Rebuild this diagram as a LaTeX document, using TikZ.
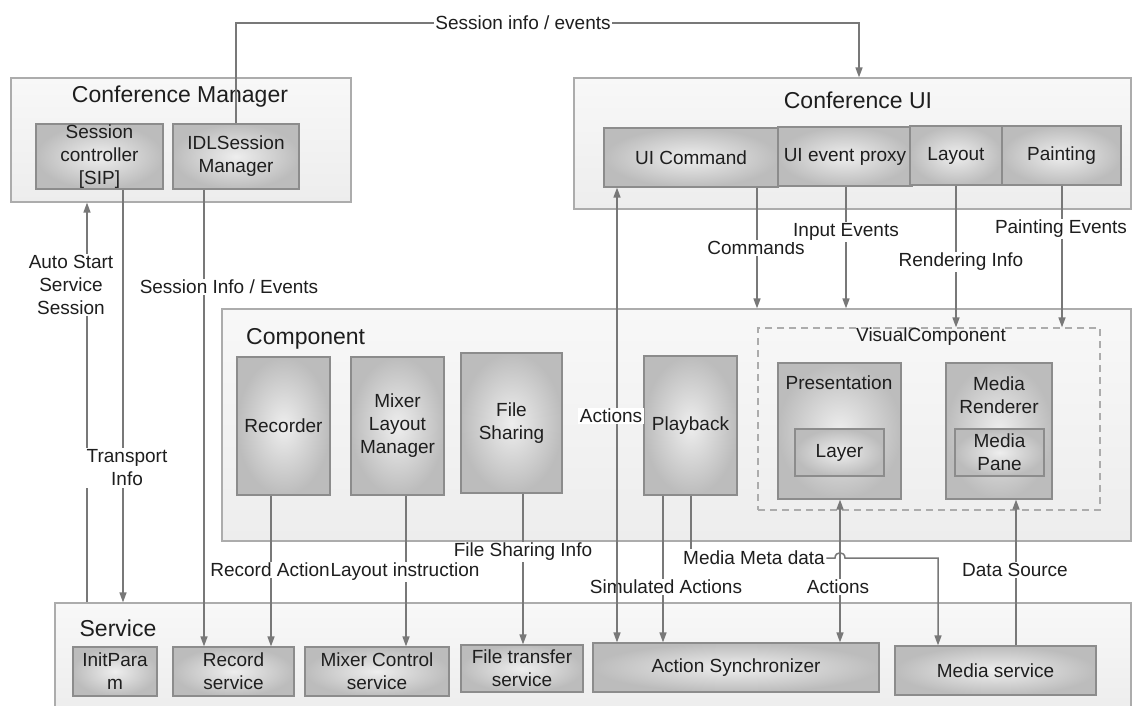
\documentclass[tikz,border=0pt]{standalone}
\usepackage{fontspec}
\setmainfont{Liberation Sans}
\usetikzlibrary{arrows.meta}

\definecolor{ink}{RGB}{30,30,30}
\definecolor{wiregray}{RGB}{120,120,120}
\definecolor{edgegray}{RGB}{140,140,140}
\definecolor{boxlight}{RGB}{238,238,238}
\definecolor{boxdark}{RGB}{188,188,188}
\definecolor{framebd}{RGB}{172,172,172}
\definecolor{frametop}{RGB}{248,248,248}
\definecolor{framebot}{RGB}{237,237,237}

\newcommand{\lblfont}{\fontsize{19}{23}\selectfont}
\newcommand{\ttlfont}{\fontsize{23}{27}\selectfont}

% box from its corners: style, name, x1, y1, x2, y2, text
\newcommand{\placebox}[7]{%
  \pgfmathsetmacro{\pbW}{#5-#3}%
  \pgfmathsetmacro{\pbH}{#6-#4}%
  \pgfmathsetmacro{\pbX}{(#3+#5)/2}%
  \pgfmathsetmacro{\pbY}{(#4+#6)/2}%
  \node[#1, minimum width=\pbW pt, minimum height=\pbH pt] (#2) at (\pbX,\pbY) {#7};}

\begin{document}
\begin{tikzpicture}[x=1pt,y=-1pt,
  part/.style={draw=edgegray, line width=1.2pt, inner color=boxlight, outer color=boxdark,
               inner sep=0pt, align=center, text=ink, font=\lblfont},
  frame/.style={draw=framebd, line width=1.2pt, top color=frametop, bottom color=framebot, inner sep=0pt},
  ghost/.style={draw=framebd, line width=1.2pt, dash pattern=on 7pt off 5pt, inner sep=0pt},
  title/.style={text=ink, font=\ttlfont, inner sep=0pt},
  tag/.style={fill=white, text=ink, font=\lblfont, align=center, inner sep=1.5pt},
  plain/.style={text=ink, font=\lblfont, align=center, inner sep=0pt},
  wire/.style={draw=wiregray, line width=1.5pt},
  arr/.style={wire, -{Triangle[length=10pt,width=7pt]}},
  darr/.style={wire, {Triangle[length=10pt,width=7pt]}-{Triangle[length=10pt,width=7pt]}},
]
\useasboundingbox (0,0) rectangle (1134,705);

% Conference Manager
\placebox{frame}{cm}{11}{78}{351}{202}{}
\node[title] at (180,97) {Conference Manager};
\placebox{part}{sc}{36}{124}{163}{189}{Session\\controller\\{[SIP]}}
\placebox{part}{idl}{173}{124}{299}{189}{IDLSession\\Manager}

% Conference UI
\placebox{frame}{cui}{574}{78}{1131}{209}{}
\node[title] at (858,100) {Conference UI};
\placebox{part}{uic}{604}{128}{778}{187}{UI Command}
\placebox{part}{uep}{778}{127}{912}{186}{UI event proxy}
\placebox{part}{lay}{910}{126}{1002}{185}{Layout}
\placebox{part}{pnt}{1002}{126}{1121}{185}{Painting}

% Component
\placebox{frame}{comp}{222}{309}{1131}{541}{}
\node[title, anchor=west] at (246,339) {Component};
\placebox{part}{rec}{237}{357}{330}{495}{Recorder}
\placebox{part}{mlm}{351}{357}{444}{495}{Mixer\\Layout\\Manager}
\placebox{part}{fsh}{461}{353}{562}{493}{File\\Sharing}
\placebox{part}{pbk}{644}{356}{737}{495}{Playback}
\placebox{ghost}{vc}{758}{328}{1100}{510}{}
\node[plain] at (931,337) {VisualComponent};
\placebox{part}{pres}{778}{363}{901}{499}{}
\node[plain] at (839,383) {Presentation};
\placebox{part}{lyr}{795}{429}{884}{476}{Layer}
\placebox{part}{mr}{946}{363}{1052}{499}{}
\node[plain] at (999,395) {Media\\Renderer};
\placebox{part}{mp}{955}{429}{1044}{476}{Media\\Pane}

% Service (runs past the lower edge)
\placebox{frame}{svc}{55}{603}{1131}{712}{}
\node[title] at (118,628) {Service};
\placebox{part}{ip}{73}{647}{157}{696}{InitPara\\m}
\placebox{part}{rs}{173}{647}{294}{696}{Record\\service}
\placebox{part}{mcs}{305}{647}{449}{696}{Mixer Control\\service}
\placebox{part}{fts}{461}{645}{583}{692}{File transfer\\service}
\placebox{part}{as}{593}{643}{879}{692}{Action Synchronizer}
\placebox{part}{ms}{895}{646}{1096}{695}{Media service}

% connectors
\draw[arr] (idl.north -| 236,0) -- (236,23) -- (859,23) -- (cui.north -| 859,0);
\draw[arr] (svc.north -| 87,0) -- (cm.south -| 87,0);
\draw[arr] (sc.south -| 123,0) -- (svc.north -| 123,0);
\draw[arr] (idl.south -| 204,0) -- (rs.north -| 204,0);
\draw[arr] (uic.south -| 757,0) -- (comp.north -| 757,0);
\draw[arr] (uep.south -| 846,0) -- (comp.north -| 846,0);
\draw[arr] (lay.south -| 956,0) -- (vc.north -| 956,0);
\draw[arr] (pnt.south -| 1062,0) -- (vc.north -| 1062,0);
\draw[arr] (rec.south -| 271,0) -- (rs.north -| 271,0);
\draw[arr] (mlm.south -| 406,0) -- (mcs.north -| 406,0);
\draw[arr] (fsh.south -| 523,0) -- (fts.north -| 523,0);
\draw[arr] (pbk.south -| 663,0) -- (as.north -| 663,0);
\draw[darr] (pres.south -| 840,0) -- (as.north -| 840,0);
\draw[arr] (ms.north -| 1016,0) -- (mr.south -| 1016,0);

% connector labels
\node[tag] at (523,23) {Session info / events};
\node[tag] at (71,285) {Auto Start\\Service\\Session};
\node[tag] at (127,468) {Transport\\Info};
\node[tag] at (229,287) {Session Info / Events};
\node[tag] at (756,248) {Commands};
\node[tag] at (846,232) {Input Events};
\node[tag] at (961,262) {Rendering Info};
\node[tag] at (1061,229) {Painting Events};
\node[tag] at (405,572) {Layout instruction};
\node[tag] at (270,570) {Record Action};
\node[tag] at (523,552) {File Sharing Info};
\node[tag] at (666,587) {Simulated Actions};
\node[tag] at (838,587) {Actions};
\node[tag] at (1015,570) {Data Source};

% media meta data, hopping over the Actions line
\node[tag] (mmd) at (754,558) {Media Meta data};
\draw[wire] (pbk.south -| 691,0) -- (mmd.north -| 691,0);
\draw[arr] (mmd.east) -- (835,558) .. controls (835,551) and (845,551) .. (845,558)
  -- (938,558) -- (ms.north -| 938,0);

% UI actions, passing over the lower labels
\draw[darr] (as.north -| 617,0) -- (uic.south -| 617,0);
\node[tag] at (611,416) {Actions};
\end{tikzpicture}
\end{document}
